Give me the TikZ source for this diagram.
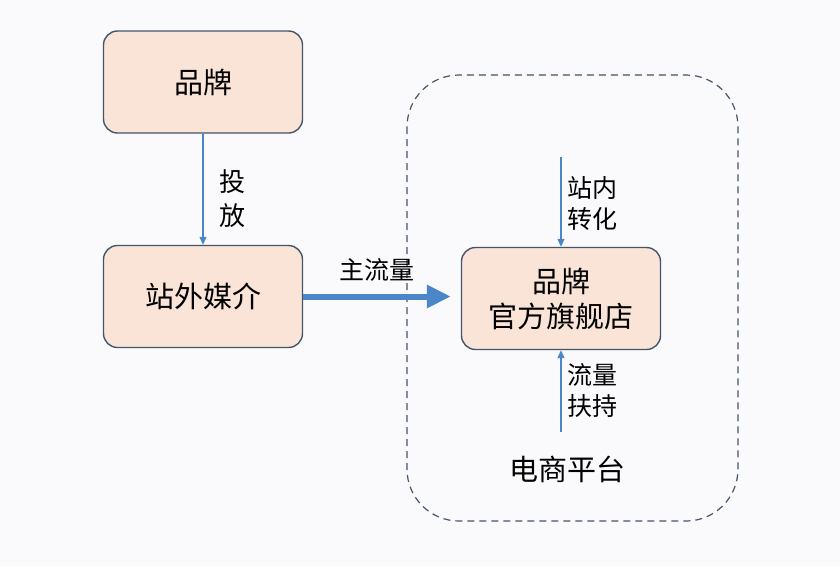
\documentclass[tikz,border=0pt]{standalone}
\usepackage{fontspec}
\setmainfont{Noto Sans CJK SC}
\usetikzlibrary{arrows.meta}
\definecolor{boxfill}{RGB}{250,228,216}
\definecolor{boxline}{RGB}{68,84,106}
\definecolor{arrowblue}{RGB}{74,134,200}
\definecolor{bgpaper}{RGB}{250,250,252}
\tikzset{
  box/.style={draw=boxline,line width=1.4pt,fill=boxfill,rounded corners=14pt,
    minimum width=199pt,minimum height=102pt,align=center,font=\fontsize{29}{35}\selectfont},
  flow/.style={draw=arrowblue,line width=1.2pt,-{Triangle[length=8pt,width=7pt]}},
  lbl/.style={align=left,font=\fontsize{25}{31}\selectfont}
}
\begin{document}
\begin{tikzpicture}[x=1pt,y=-1pt]
  % Canvas
  \fill[bgpaper] (0,0) rectangle (840,566);
  \useasboundingbox (0,0) rectangle (840,566);

  % Platform frame
  \draw[boxline,line width=1.2pt,dash pattern=on 7pt off 5pt,rounded corners=52pt]
    (407,75) rectangle (738,521);

  % Boxes
  \node[box] (brand) at (203,82) {品牌};
  \node[box] (media) at (203,296.5) {站外媒介};
  \node[box] (store) at (561,298.5) {品牌\\官方旗舰店};

  % Free ends
  \coordinate (intop) at (561,157);
  \coordinate (inbot) at (561,432);

  % Arrows
  \draw[flow] (brand) -- (media);
  \draw[arrowblue,line width=6pt,-{Triangle[length=24pt,width=22pt]},shorten >=10pt]
    (media.east) -- (media.east -| store.west);
  \draw[flow] (intop) -- (store);
  \draw[flow] (inbot) -- (store);

  % Labels
  \node[lbl,font=\fontsize{26}{34}\selectfont] (put) at (232,199) {投\\放};
  \node[lbl] (main) at (377,270) {主流量};
  \node[lbl] (conv) at (592,203) {站内\\转化};
  \node[lbl] (help) at (592,391) {流量\\扶持};
  \node[font=\fontsize{29}{30}\selectfont] (mall) at (567,469) {电商平台};
\end{tikzpicture}
\end{document}
